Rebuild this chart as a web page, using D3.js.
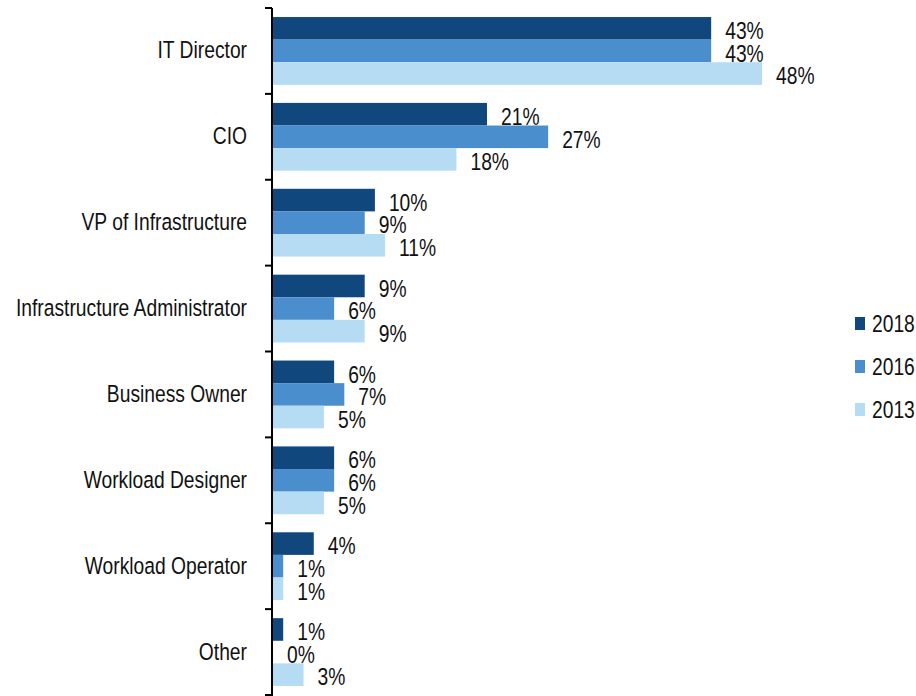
<!DOCTYPE html>
<html>
<head>
<meta charset="utf-8">
<script src="https://cdn.jsdelivr.net/npm/d3@7/dist/d3.min.js"></script>
<style>
  html, body { margin: 0; padding: 0; background: #fff; }
  svg text { font-family: "Liberation Sans", Arial, sans-serif; fill: #111; }
</style>
</head>
<body>
<svg id="chart" width="916" height="696"></svg>
<script>
// Roles responsible for the decision, share of respondents by survey year
const categories = [
  "IT Director",
  "CIO",
  "VP of Infrastructure",
  "Infrastructure Administrator",
  "Business Owner",
  "Workload Designer",
  "Workload Operator",
  "Other"
];
const seriesNames = ["2018", "2016", "2013"];
const values2018 = [43, 21, 10, 9, 6, 6, 4, 1];
const values2016 = [43, 27, 9, 6, 7, 6, 1, 0];
const values2013 = [48, 18, 11, 9, 5, 5, 1, 3];
const seriesColors = ["#10477c", "#4a8ecd", "#b6dcf4"];

const seriesValues = [values2018, values2016, values2013];

// Condensed type: regular sans squeezed horizontally
const FONT_SIZE = 23.5;
const NARROW = 0.82;

const svg = d3.select("#chart");

const axisX = 272;
const plotTop = 8, plotBottom = 695;

const x = d3.scaleLinear().domain([0, 10]).range([axisX, axisX + 101.9]);

const y0 = d3.scaleBand().domain(categories).range([plotTop, plotBottom]).paddingInner(0).paddingOuter(0);
const y1 = d3.scaleBand().domain(seriesNames).range([0, y0.bandwidth()]).paddingInner(0).paddingOuter(0.4);

const color = d3.scaleOrdinal().domain(seriesNames).range(seriesColors);

// Place a condensed text at (px, py)
function narrowText(sel, px, py) {
  sel.attr("x", 0).attr("y", 0)
    .attr("font-size", FONT_SIZE)
    .attr("transform", (d, i) => `translate(${px(d, i)},${py(d, i)}) scale(${NARROW},1)`);
}

// Bars and value labels
const groups = svg.append("g").selectAll("g")
  .data(categories)
  .join("g")
  .attr("transform", d => `translate(0,${y0(d)})`);

groups.each(function(cat, ci) {
  const g = d3.select(this);
  const rows = seriesNames.map((s, si) => ({ s, v: seriesValues[si][ci] }));
  g.selectAll("rect")
    .data(rows)
    .join("rect")
    .attr("x", x(0) + 1)
    .attr("y", d => y1(d.s))
    .attr("width", d => Math.max(0, x(d.v) - x(0)))
    .attr("height", y1.bandwidth())
    .attr("fill", d => color(d.s));
  g.selectAll("text.val")
    .data(rows)
    .join("text")
    .attr("class", "val")
    .attr("dy", "0.35em")
    .text(d => d.v + "%")
    .call(narrowText, d => x(d.v) + 15, d => y1(d.s) + y1.bandwidth() / 2 + 2.5);
});

// Category axis
const yAxis = d3.axisLeft(y0).tickSize(0).tickPadding(25);
const axisG = svg.append("g").attr("transform", `translate(${axisX},0)`).call(yAxis);
axisG.select(".domain").remove();
axisG.attr("font-size", null).attr("font-family", null);
axisG.selectAll("text")
  .attr("fill", "#111")
  .attr("dy", "0.32em")
  .call(narrowText, () => -25, () => 0);

// Axis line with ticks at the group boundaries
const boundaries = categories.map(c => y0(c)).concat([plotBottom]);
svg.append("line")
  .attr("x1", axisX).attr("x2", axisX)
  .attr("y1", plotTop).attr("y2", 696)
  .attr("stroke", "#000").attr("stroke-width", 2);
svg.append("g").selectAll("line")
  .data(boundaries)
  .join("line")
  .attr("x1", axisX - 7).attr("x2", axisX)
  .attr("y1", d => d).attr("y2", d => d)
  .attr("stroke", "#000").attr("stroke-width", 2);

// Legend
const legend = svg.append("g").attr("transform", "translate(855,317)");
const li = legend.selectAll("g")
  .data(seriesNames)
  .join("g")
  .attr("transform", (d, i) => `translate(0,${i * 43})`);
li.append("rect")
  .attr("width", 10).attr("height", 13).attr("y", 0)
  .attr("fill", d => color(d));
li.append("text")
  .attr("dy", "0.35em")
  .text(d => d)
  .call(narrowText, () => 17, () => 7);
</script>
</body>
</html>
